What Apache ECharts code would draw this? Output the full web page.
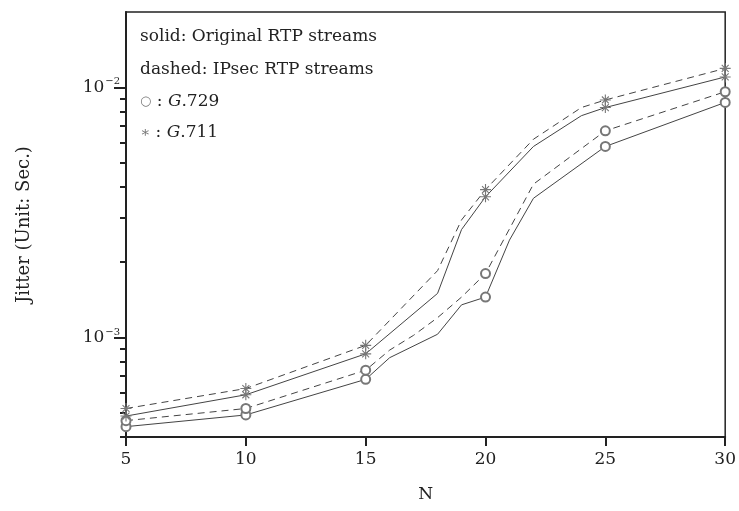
<!DOCTYPE html>
<html>
<head>
<meta charset="utf-8">
<script src="https://cdn.jsdelivr.net/npm/echarts@6/dist/echarts.min.js"></script>
<style>
  html, body { margin: 0; padding: 0; background: #fff; }
  #main { width: 739px; height: 511px; }
</style>
</head>
<body>
<div id="main"></div>
<script>
// N values where the curves bend (markers only at multiples of 5)
var n729Orig  = [5, 10, 15, 16, 18, 19, 20, 21, 22, 25, 30];
var g729Orig  = [4.4e-4, 4.9e-4, 6.8e-4, 8.3e-4, 1.03e-3, 1.35e-3, 1.45e-3, 2.45e-3, 3.6e-3, 5.8e-3, 8.7e-3];
var n729Ipsec = [5, 10, 15, 16, 17, 18, 19, 20, 22, 25, 30];
var g729Ipsec = [4.65e-4, 5.2e-4, 7.4e-4, 8.9e-4, 1.02e-3, 1.2e-3, 1.45e-3, 1.8e-3, 4.1e-3, 6.7e-3, 9.6e-3];
var n711Orig  = [5, 10, 15, 18, 19, 20, 22, 24, 25, 30];
var g711Orig  = [4.85e-4, 5.9e-4, 8.6e-4, 1.5e-3, 2.7e-3, 3.65e-3, 5.8e-3, 7.7e-3, 8.3e-3, 1.1e-2];
var n711Ipsec = [5, 10, 15, 18, 19, 20, 22, 24, 25, 30];
var g711Ipsec = [5.2e-4, 6.25e-4, 9.3e-4, 1.85e-3, 2.95e-3, 3.9e-3, 6.2e-3, 8.3e-3, 8.9e-3, 1.19e-2];

// axis range and ticks
var yMin = 4e-4, yMax = 2e-2;
var majorTicks = [1e-3, 1e-2];
var minorTicks = [4e-4, 5e-4, 6e-4, 7e-4, 8e-4, 9e-4, 2e-3, 3e-3, 4e-3, 5e-3, 6e-3, 7e-3, 8e-3, 9e-3];

var serif = '"DejaVu Serif", "Liberation Serif", serif';
var ink = '#222';
var lineCol = '#444';
var markCol = '#777';

// asterisk marker made of 4 thin bars
var star = 'path://M0,4.5h10v1h-10z M4.5,0h1v10h-1z M2.2,1.5L8.5,7.8L7.8,8.5L1.5,2.2z M7.8,1.5L8.5,2.2L2.2,8.5L1.5,7.8z';

function lg(v) { return Math.log10(v); }

function mkSeries(name, xs, ys, sym, size, dashed) {
  return {
    name: name,
    type: 'line',
    data: xs.map(function (x, i) { return [x, ys[i]]; }),
    symbol: function (v) { return v[0] % 5 === 0 ? sym : 'none'; },
    symbolSize: size,
    showAllSymbol: true,
    lineStyle: { color: lineCol, width: 1, type: dashed ? [7, 5] : 'solid' },
    itemStyle: { color: markCol, borderWidth: 1 },
    z: 3
  };
}

function legendLine(y, text, rich) {
  return {
    type: 'text', x: 140, y: y,
    style: { text: text, font: '17px ' + serif, fill: ink, verticalAlign: 'middle', rich: rich }
  };
}

var myChart = echarts.init(document.getElementById('main'));
var option = {
  animation: false,
  backgroundColor: '#fff',
  grid: {
    left: 126, right: 13, top: 12, bottom: 74,
    show: true, borderColor: ink, borderWidth: 1.5
  },
  xAxis: {
    type: 'value', min: 5, max: 30, interval: 5,
    axisLine: { lineStyle: { color: ink, width: 2 } },
    axisTick: { length: 9, lineStyle: { color: ink, width: 2 } },
    axisLabel: { color: ink, fontFamily: serif, fontSize: 17, margin: 14 },
    splitLine: { show: false },
    name: 'N', nameLocation: 'middle', nameGap: 49,
    nameTextStyle: { color: ink, fontFamily: serif, fontSize: 17 }
  },
  yAxis: [
    {
      type: 'log', logBase: 10, min: yMin, max: yMax,
      axisLine: { show: true, lineStyle: { color: ink, width: 2 } },
      axisTick: { show: false },
      axisLabel: { show: false },
      splitLine: { show: false },
      name: 'Jitter (Unit: Sec.)', nameLocation: 'middle', nameGap: 93,
      nameTextStyle: { color: ink, fontFamily: serif, fontSize: 18 }
    },
    {
      type: 'value', min: lg(yMin), max: lg(yMax), position: 'left',
      axisLine: { show: false },
      axisTick: { show: true, length: 12, customValues: majorTicks.map(lg), lineStyle: { color: ink, width: 2 } },
      axisLabel: {
        customValues: majorTicks.map(lg), margin: 6, color: ink,
        formatter: function (v) { return '10{sup|\u2212' + Math.round(-v) + '}'; },
        fontFamily: serif, fontSize: 17,
        rich: { sup: { fontFamily: serif, fontSize: 10, verticalAlign: 'top', padding: [0, 0, 11, 1], color: ink } }
      },
      splitLine: { show: false }
    },
    {
      type: 'value', min: lg(yMin), max: lg(yMax), position: 'left',
      axisLine: { show: false },
      axisTick: { show: true, length: 6, customValues: minorTicks.map(lg), lineStyle: { color: ink, width: 2 } },
      axisLabel: { show: false },
      splitLine: { show: false }
    }
  ],
  graphic: [
    legendLine(37, 'solid: Original RTP streams'),
    legendLine(70, 'dashed: IPsec RTP streams'),
    legendLine(102, '{s|\u25cb} : {i|G}.729', {
      s: { fontSize: 13, fill: markCol, fontFamily: serif },
      i: { fontStyle: 'italic', fontSize: 17, fontFamily: serif, fill: ink }
    }),
    legendLine(133, '{s|\u2217} : {i|G}.711', {
      s: { fontSize: 15, fill: markCol, fontFamily: serif },
      i: { fontStyle: 'italic', fontSize: 17, fontFamily: serif, fill: ink }
    })
  ],
  series: [
    mkSeries('G.729 original', n729Orig, g729Orig, 'emptyCircle', 9, false),
    mkSeries('G.729 IPsec', n729Ipsec, g729Ipsec, 'emptyCircle', 9, true),
    mkSeries('G.711 original', n711Orig, g711Orig, star, 11, false),
    mkSeries('G.711 IPsec', n711Ipsec, g711Ipsec, star, 11, true)
  ]
};
myChart.setOption(option);
</script>
</body>
</html>
